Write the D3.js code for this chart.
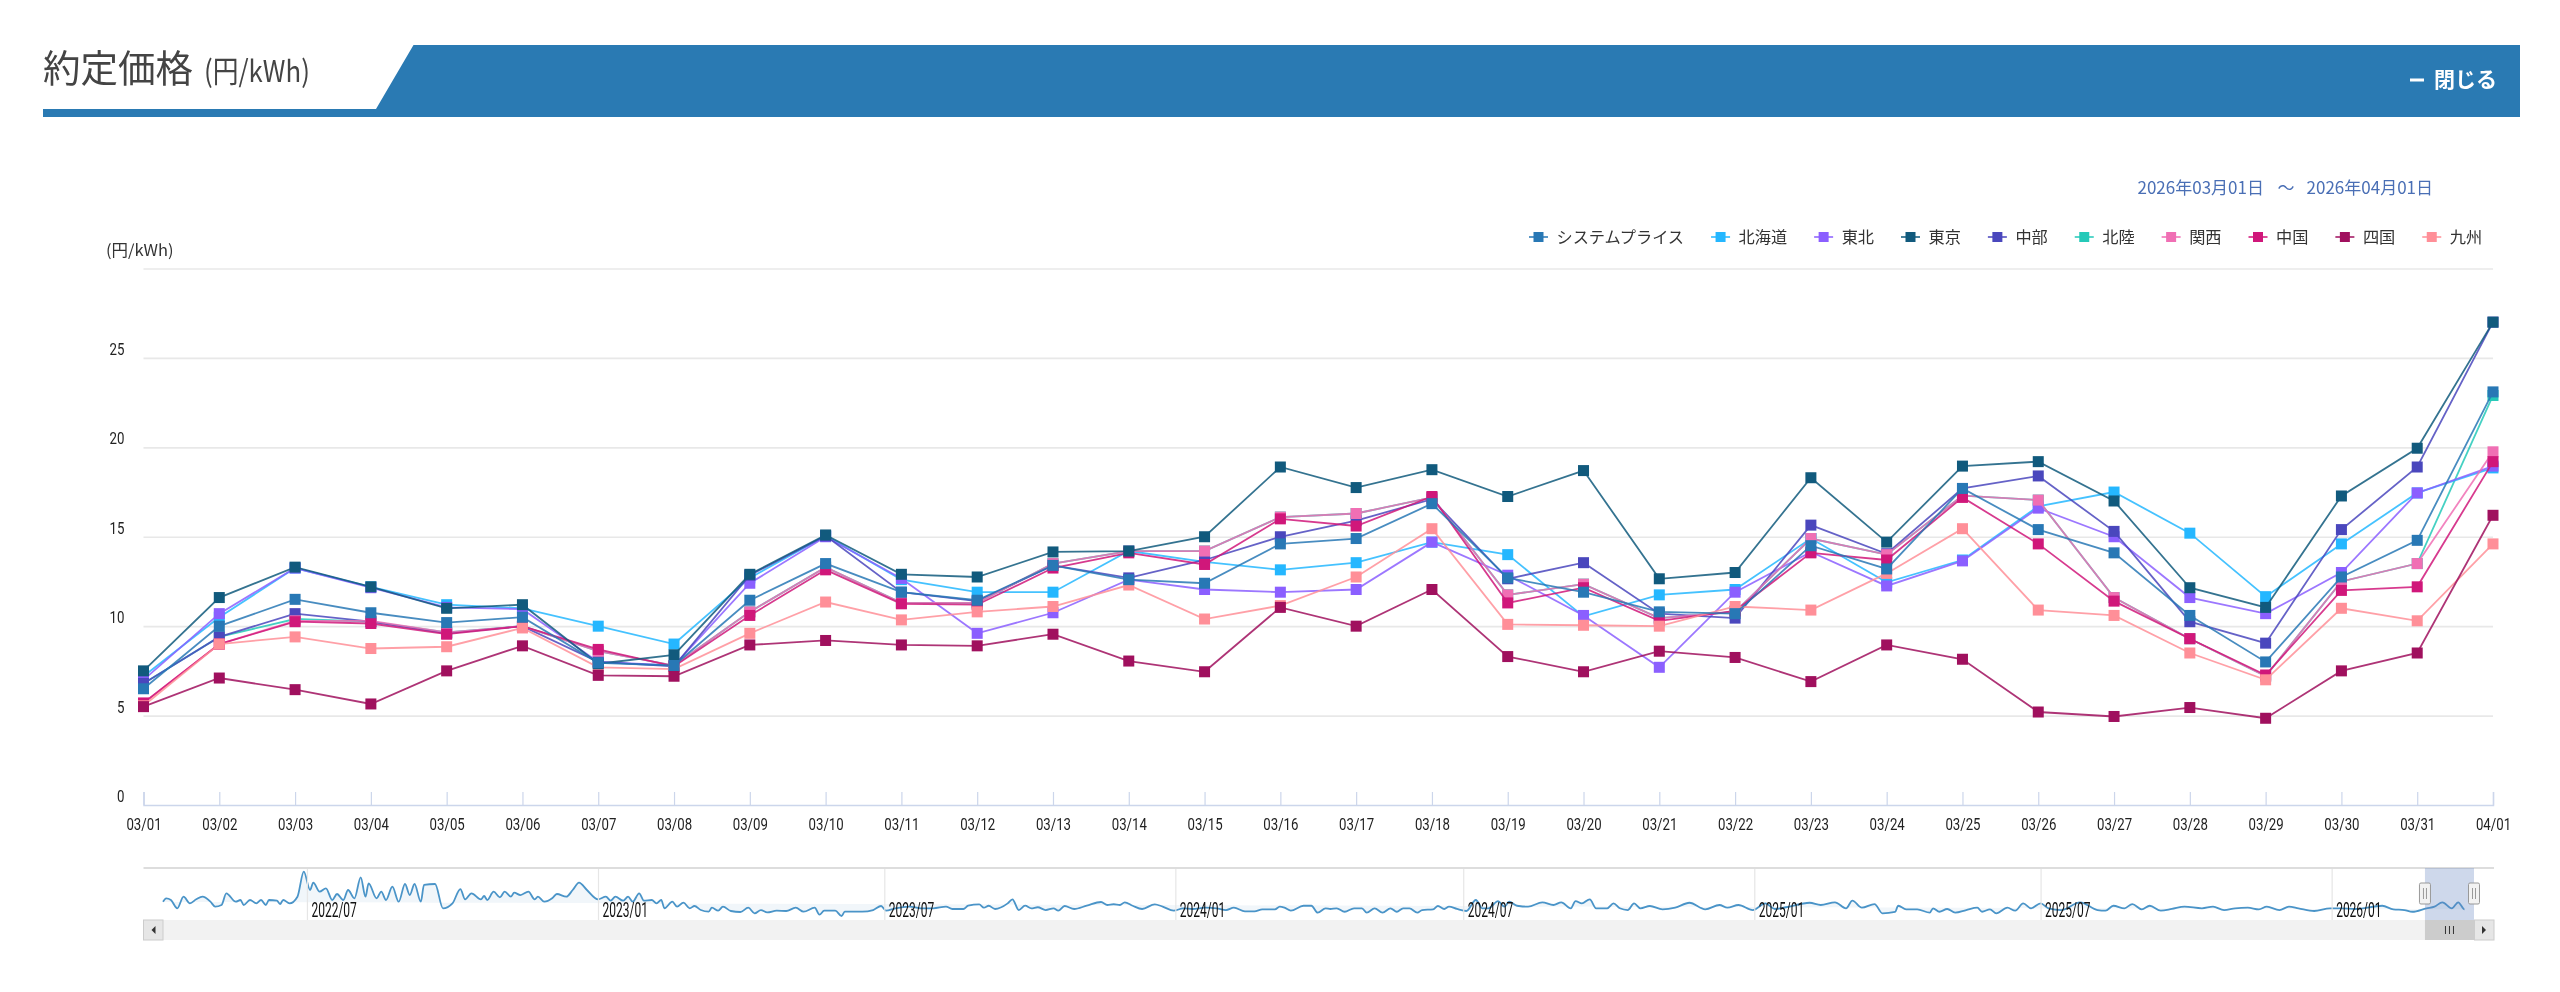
<!DOCTYPE html>
<html>
<head>
<meta charset="utf-8">
<script src="https://d3js.org/d3.v7.min.js"></script>
<style>
  html, body { margin: 0; background: #fff; }
  svg { display: block; filter: blur(0.35px); }
  text { font-family: "Noto Sans CJK JP", "Noto Sans", sans-serif; }
  .num text, text.num { font-family: Roboto, sans-serif; fill: #222; }
</style>
</head>
<body>
<div id="chart"></div>
<script>
// days of the selected range
const days = ["03/01","03/02","03/03","03/04","03/05","03/06","03/07","03/08","03/09","03/10","03/11","03/12","03/13","03/14","03/15","03/16","03/17","03/18","03/19","03/20","03/21","03/22","03/23","03/24","03/25","03/26","03/27","03/28","03/29","03/30","03/31","04/01"];
const yTicks = [0, 5, 10, 15, 20, 25, 30];

// 約定価格 per area
const system   = [6.5,10.0,11.5,10.75,10.2,10.5,7.95,7.8,11.45,13.5,11.9,11.45,13.4,12.6,12.4,14.6,14.9,16.85,12.7,11.9,10.8,10.7,14.5,13.2,17.7,15.4,14.1,10.6,8.0,12.75,14.8,23.1];
const hokkaido = [7.2,10.5,13.25,12.2,11.2,11.0,10.0,9.0,12.7,15.05,12.6,11.9,11.9,14.2,13.6,13.15,13.55,14.7,14.0,10.55,11.75,12.05,14.9,12.45,13.7,16.7,17.5,15.2,11.65,14.6,17.45,18.85];
const tohoku   = [7.0,10.7,13.25,12.15,11.05,10.95,8.0,7.8,12.4,15.0,12.67,9.6,10.75,12.6,12.05,11.9,12.05,14.7,12.85,10.6,7.7,11.9,14.15,12.25,13.65,16.6,15.0,11.6,10.7,13.0,17.45,18.95];
const tokyo    = [7.5,11.6,13.3,12.2,11.0,11.2,7.9,8.4,12.9,15.1,12.9,12.75,14.15,14.2,15.0,18.9,17.75,18.75,17.25,18.7,12.65,13.0,18.3,14.7,18.95,19.2,17.0,12.15,11.05,17.28,19.95,27.0];
const chubu    = [6.8,9.4,10.7,10.25,9.6,10.0,8.0,7.75,12.85,15.05,11.9,11.4,13.4,12.7,13.7,15.0,15.9,17.1,12.65,13.55,10.7,10.45,15.65,14.05,17.7,18.4,15.3,10.25,9.05,15.4,18.9,27.0];
const hokuriku = [6.8,9.4,10.4,10.25,9.65,10.0,8.6,7.8,10.8,13.3,11.3,11.3,13.5,14.2,14.2,16.1,16.3,17.2,11.75,12.35,10.45,10.8,14.9,14.0,17.3,17.05,11.6,9.3,7.2,12.5,13.5,22.9];
const kansai   = [5.7,9.0,10.3,10.3,9.65,10.0,8.6,7.8,10.8,13.3,11.3,11.3,13.5,14.2,14.2,16.1,16.3,17.2,11.75,12.35,10.45,10.8,14.9,14.0,17.3,17.05,11.6,9.3,7.2,12.5,13.5,19.75];
const chugoku  = [5.7,9.0,10.25,10.15,9.55,10.0,8.7,7.75,10.6,13.15,11.25,11.2,13.25,14.1,13.45,16.0,15.6,17.25,11.3,12.15,10.3,10.85,14.1,13.7,17.2,14.6,11.4,9.3,7.27,12.0,12.2,19.2];
const shikoku  = [5.5,7.1,6.45,5.65,7.5,8.9,7.25,7.2,8.95,9.2,8.95,8.9,9.55,8.05,7.45,11.05,10.0,12.05,8.3,7.45,8.6,8.25,6.9,8.95,8.15,5.2,4.95,5.45,4.85,7.5,8.5,16.2];
const kyushu   = [5.55,9.0,9.4,8.75,8.85,9.9,7.7,7.6,9.6,11.35,10.35,10.8,11.1,12.3,10.4,11.15,12.75,15.45,10.1,10.05,10.0,11.1,10.9,12.95,15.45,10.9,10.6,8.5,7.0,11.0,10.3,14.6];

// legend order, and the drawing order of the lines (last one ends up on top)
const legendNames = ["システムプライス","北海道","東北","東京","中部","北陸","関西","中国","四国","九州"];
const legendColors = ["#2878b5","#25b7ff","#8b5fff","#115a7d","#4a47bd","#25c9b8","#f06fb4","#d0177a","#a0105e","#ff8f98"];
const legendValues = [system, hokkaido, tohoku, tokyo, chubu, hokuriku, kansai, chugoku, shikoku, kyushu];
const drawOrder = [5, 1, 2, 4, 6, 7, 9, 8, 3, 0];

// navigator: whole history, days since 2022/04/01 and price
const navDays = [0,2,5,9,13,17,21,25,30,33,37,40,46,49,51,55,59,62,65,67,72,74,76,80,85,89,93,95,99,103,107,110,114,117,121,125,128,130,135,138,141,145,149,153,156,159,163,165,172,177,183,188,191,195,201,203,205,209,213,216,220,222,226,231,235,237,241,246,249,255,259,263,268,275,280,283,286,291,294,297,301,304,309,312,315,317,322,325,329,333,336,340,345,347,351,354,359,365,370,374,378,382,388,394,400,405,412,415,418,425,429,431,442,449,454,457,463,472,479,487,495,499,506,509,516,519,522,526,534,537,541,545,549,553,558,563,566,570,576,584,593,597,601,605,608,613,619,627,632,639,645,651,659,666,672,677,684,690,695,703,706,709,713,721,726,730,735,738,742,747,753,758,761,766,771,776,780,784,788,793,796,803,806,810,813,818,824,830,834,838,844,848,851,856,863,872,879,884,890,893,897,902,906,913,917,921,926,930,934,940,948,956,965,975,984,989,996,1005,1013,1019,1026,1041,1048,1057,1064,1068,1074,1082,1087,1095,1097,1102,1109,1117,1119,1123,1128,1133,1140,1147,1150,1155,1159,1166,1171,1176,1181,1187,1192,1200,1212,1223,1228,1233,1240,1245,1251,1256,1263,1270,1278,1289,1296,1303,1310,1318,1325,1330,1338,1344,1350,1360,1370,1377,1386,1403,1410,1417,1422,1431,1436,1441,1447,1451,1455,1459];
const navValues = [24.4,28.9,26.7,15.6,31.1,22.2,27.6,31.1,24.4,17.8,20,35.6,24.4,26.7,20,26.7,22.2,26.7,20,26.7,25.8,21.3,26.7,22.2,31.1,64.4,40,49.8,37.8,42.2,26.7,34.7,26.7,40,28.9,56.9,31.1,48.9,28.9,37.8,26.7,44.4,24.4,48,33.3,48,24.4,46.7,48,15.6,22.2,41.3,27.6,35.6,27.6,32,26.7,37.8,30.2,37.8,31.1,36.4,33.3,37.8,27.6,31.1,24.4,28.9,34.7,31.1,40,49.8,40,27.6,31.1,25.8,31.1,25.8,31.1,24.4,35.6,25.8,26.7,22.2,26.7,15.6,24.4,17.8,23.1,15.6,18.7,13.3,11.1,16.4,12.4,17.8,12,10.7,16.4,8.9,13.3,10.2,12.4,12,16.4,11.1,16.4,7.1,12.4,12.4,5.3,11.1,11.1,13.3,18.7,12.4,15.6,17.8,15.6,15.6,17.8,14.7,14.7,19.1,20.9,16.4,19,14.7,22.2,27.6,13.3,19.1,15.6,17,13.3,15.6,12.4,18.7,14.7,19.1,24,20,21,20,23.6,19,14.7,20.9,17.8,12.4,15.6,14.7,16.4,15.6,13.3,16.4,11.6,11.6,14.2,14.2,17.8,16.4,12.4,19,19,9.8,15.6,14.7,15.6,11,15.6,15.6,9.8,15.6,9.8,15.6,11,15.6,15.6,9.8,13.3,14.2,18.7,14.7,17.8,14.7,12,26.7,15.6,15.6,25.3,17.8,24.4,19,17.8,23.6,20,23.6,15.6,25.3,22.2,27.6,15.6,15.6,22.2,15.6,13.3,22.2,15.6,18.7,14.2,16.4,23,14.2,20,16.4,20,13.3,22.2,14.7,17,23,20,23.6,15.6,25.8,16.4,21.3,8.9,10.7,19,14.2,14.2,9.8,15.6,11,14.7,9.8,13.3,16.4,11,14.2,8.9,16.4,12.4,22.2,15.6,22.2,15.6,13.3,23.6,13.3,12.4,19,15.6,21.3,14.2,19,12.4,14.7,17.8,15.6,17.8,13.3,15.6,16.4,14.2,17.8,13.3,17.8,15.6,12,15.6,15.6,14.7,19,14.2,13.3,11,15.6,17.8,23.6,15.6,23.6,14.2];
const navTicks = ["2022/07","2023/01","2023/07","2024/01","2024/07","2025/01","2025/07","2026/01"];

const width = 2560, height = 992;
const margin = {top: 268.5, left: 143.5, right: 2493, bottom: 805};
const nav = {top: 868, bottom: 920, left: 143.5, right: 2494, start: 163, end: 2474};

const svg = d3.select("#chart").append("svg")
    .attr("width", width)
    .attr("height", height);

// header band
svg.append("path")
    .attr("d", d3.line()([[43,109],[376,109],[413.5,45],[2520,45],[2520,117],[43,117]]) + "Z")
    .attr("fill", "#2a7ab3");
svg.append("text")
    .attr("x", 43).attr("y", 82)
    .attr("font-size", 37.5).attr("fill", "#444")
    .text("約定価格");
svg.append("text")
    .attr("transform", "translate(204,82) scale(0.86,1)")
    .attr("font-size", 30).attr("fill", "#444")
    .text("(円/kWh)");
svg.append("rect")
    .attr("x", 2410).attr("y", 78.5)
    .attr("width", 14).attr("height", 3)
    .attr("fill", "#fff");
svg.append("text")
    .attr("x", 2497).attr("y", 87)
    .attr("text-anchor", "end")
    .attr("font-size", 21).attr("font-weight", 700).attr("fill", "#fff")
    .text("閉じる");

// selected dates
svg.append("text")
    .attr("x", 2137.5).attr("y", 194)
    .attr("font-size", 17).attr("fill", "#4a6fb5")
    .text("2026年03月01日");
svg.append("text")
    .attr("x", 2286).attr("y", 194)
    .attr("text-anchor", "middle")
    .attr("font-size", 17).attr("fill", "#4a6fb5")
    .text("～");
svg.append("text")
    .attr("x", 2433).attr("y", 194)
    .attr("text-anchor", "end")
    .attr("font-size", 17).attr("fill", "#4a6fb5")
    .text("2026年04月01日");

svg.append("text")
    .attr("transform", "translate(106,256) scale(1.03,1)")
    .attr("font-size", 16).attr("fill", "#333")
    .text("(円/kWh)");

// scales
const x = d3.scalePoint().domain(days).range([margin.left, margin.right]);
const y = d3.scaleLinear().domain([0, 30]).range([margin.bottom, margin.top]);

// y axis, labels sit on top of the grid lines
const yAxis = svg.append("g")
    .attr("class", "num")
    .attr("transform", `translate(${margin.left},0)`)
    .call(d3.axisLeft(y).tickValues(yTicks).tickSize(-(margin.right - margin.left)));
yAxis.select(".domain").remove();
yAxis.selectAll(".tick line")
    .attr("stroke", "#e8e8e8").attr("stroke-width", 1.6)
    .attr("opacity", d => d === 0 ? 0 : 1);
yAxis.selectAll(".tick text")
    .text(d => d === 30 ? "" : d)
    .attr("font-size", 17)
    .attr("x", 0).attr("dy", 0)
    .attr("text-anchor", "end")
    .attr("transform", "translate(-19,-3.5) scale(0.78,1)");

// x axis, ticks point up
const xAxis = svg.append("g")
    .attr("class", "num")
    .attr("transform", `translate(0,${margin.bottom})`)
    .call(d3.axisBottom(x).tickSize(-13));
xAxis.select(".domain").attr("stroke", "#ccd6eb").attr("stroke-width", 1.5);
xAxis.selectAll(".tick line").attr("stroke", "#ccd6eb").attr("stroke-width", 1.2);
xAxis.selectAll(".tick text")
    .attr("font-size", 16.5)
    .attr("y", 0).attr("dy", 0)
    .attr("transform", "translate(0,25) scale(0.8,1)");

// lines and markers
const line = d3.line().x((d, i) => x(days[i])).y(d => y(d));
const series = svg.selectAll(".series")
  .data(drawOrder)
  .join("g")
    .attr("class", "series");
series.append("path")
    .attr("d", k => line(legendValues[k]))
    .attr("fill", "none")
    .attr("stroke", k => legendColors[k])
    .attr("stroke-width", 1.8)
    .attr("stroke-opacity", 0.85);
series.selectAll("rect")
  .data(k => legendValues[k].map((v, i) => ({v: v, day: days[i], color: legendColors[k]})))
  .join("rect")
    .attr("x", d => x(d.day) - 5.5)
    .attr("y", d => y(d.v) - 5.5)
    .attr("width", 11)
    .attr("height", 11)
    .attr("fill", d => d.color);

// legend
var legendX = 1538.5;
legendNames.forEach(function(name, i) {
  const g = svg.append("g").attr("transform", `translate(${legendX},237)`);
  g.append("line")
      .attr("x1", -9.5).attr("x2", 9.5)
      .attr("stroke", legendColors[i]).attr("stroke-width", 1.8).attr("stroke-opacity", 0.85);
  g.append("rect")
      .attr("x", -5).attr("y", -5)
      .attr("width", 10).attr("height", 10)
      .attr("fill", legendColors[i]);
  const t = g.append("text")
      .attr("x", 18).attr("y", 6)
      .attr("font-size", 16.2).attr("fill", "#333")
      .text(name);
  legendX += 18 + t.node().getComputedTextLength() + 36.5;
});

// navigator
const parseMonth = d3.timeParse("%Y/%m");
const navStart = parseMonth("2022/04");
const xNav = d3.scaleTime()
    .domain([navStart, d3.timeDay.offset(navStart, 1461)])
    .range([nav.start, nav.end]);
const yNav = d3.scaleLinear().domain([0, 70]).range([nav.bottom, nav.bottom - 52.5]);

const navX = d => xNav(d3.timeDay.offset(navStart, d));
const navPoints = navDays.map((d, i) => [d, navValues[i]]);

svg.append("path")
    .attr("d", d3.area().x(d => navX(d[0])).y0(nav.bottom).y1(d => yNav(d[1])).curve(d3.curveMonotoneX)(navPoints))
    .attr("fill", "#f1f6fa");

svg.append("path")
    .attr("d", d3.line().x(d => navX(d[0])).y(d => yNav(d[1])).curve(d3.curveMonotoneX)(navPoints))
    .attr("fill", "none")
    .attr("stroke", "#4a94c8")
    .attr("stroke-width", 1.8);

// month labels are drawn over the line
const navAxis = svg.append("g")
    .attr("class", "num")
    .attr("transform", `translate(0,${nav.bottom})`)
    .call(d3.axisBottom(xNav)
      .tickValues(navTicks.map(parseMonth))
      .tickFormat(d3.timeFormat("%Y/%m"))
      .tickSize(-(nav.bottom - nav.top)));
navAxis.select(".domain").remove();
navAxis.selectAll(".tick line").attr("stroke", "#e6e6e6").attr("stroke-width", 1.2);
navAxis.selectAll(".tick text")
    .attr("font-size", 20)
    .attr("y", 0).attr("dy", 0)
    .attr("text-anchor", "start")
    .style("fill", "#111")
    .attr("transform", "translate(4,-3.5) scale(0.6,1)");

svg.append("line")
    .attr("x1", nav.left).attr("x2", nav.right)
    .attr("y1", nav.top).attr("y2", nav.top)
    .attr("stroke", "#ddd").attr("stroke-width", 2);

// selected range
const selectStart = xNav(parseMonth("2026/03"));
const selectEnd = nav.end;
svg.append("rect")
    .attr("x", selectStart).attr("y", nav.top)
    .attr("width", selectEnd - selectStart).attr("height", nav.bottom - nav.top)
    .attr("fill", "#6685c2").attr("fill-opacity", 0.32);

// scrollbar
svg.append("rect")
    .attr("x", nav.left).attr("y", nav.bottom)
    .attr("width", nav.right - nav.left).attr("height", 20)
    .attr("fill", "#f2f2f2");
svg.append("rect")
    .attr("x", selectStart).attr("y", nav.bottom)
    .attr("width", selectEnd - selectStart).attr("height", 20)
    .attr("fill", "#cccccc");
svg.selectAll(".grip")
  .data([-4, 0, 4])
  .join("line")
    .attr("class", "grip")
    .attr("x1", d => (selectStart + selectEnd) / 2 + d)
    .attr("x2", d => (selectStart + selectEnd) / 2 + d)
    .attr("y1", nav.bottom + 6).attr("y2", nav.bottom + 14)
    .attr("stroke", "#333").attr("stroke-width", 1);
svg.selectAll(".scrollbtn")
  .data([nav.left, nav.right - 19.5])
  .join("rect")
    .attr("class", "scrollbtn")
    .attr("x", d => d).attr("y", nav.bottom)
    .attr("width", 19.5).attr("height", 20)
    .attr("fill", "#e6e6e6").attr("stroke", "#ccc");
svg.append("path")
    .attr("d", `M${nav.left + 12},${nav.bottom + 6}L${nav.left + 8},${nav.bottom + 10}L${nav.left + 12},${nav.bottom + 14}Z`)
    .attr("fill", "#333");
svg.append("path")
    .attr("d", `M${nav.right - 12},${nav.bottom + 6}L${nav.right - 8},${nav.bottom + 10}L${nav.right - 12},${nav.bottom + 14}Z`)
    .attr("fill", "#333");

// range handles
[selectStart, selectEnd].forEach(function(hx) {
  const g = svg.append("g").attr("transform", `translate(${hx},883)`);
  g.append("rect")
      .attr("x", -5.5).attr("width", 11).attr("height", 21).attr("rx", 1.5)
      .attr("fill", "#f2f2f2").attr("stroke", "#999").attr("stroke-width", 1);
  [-1.5, 1.5].forEach(function(dx) {
    g.append("line")
        .attr("x1", dx).attr("x2", dx).attr("y1", 5).attr("y2", 16)
        .attr("stroke", "#999");
  });
});
</script>
</body>
</html>
